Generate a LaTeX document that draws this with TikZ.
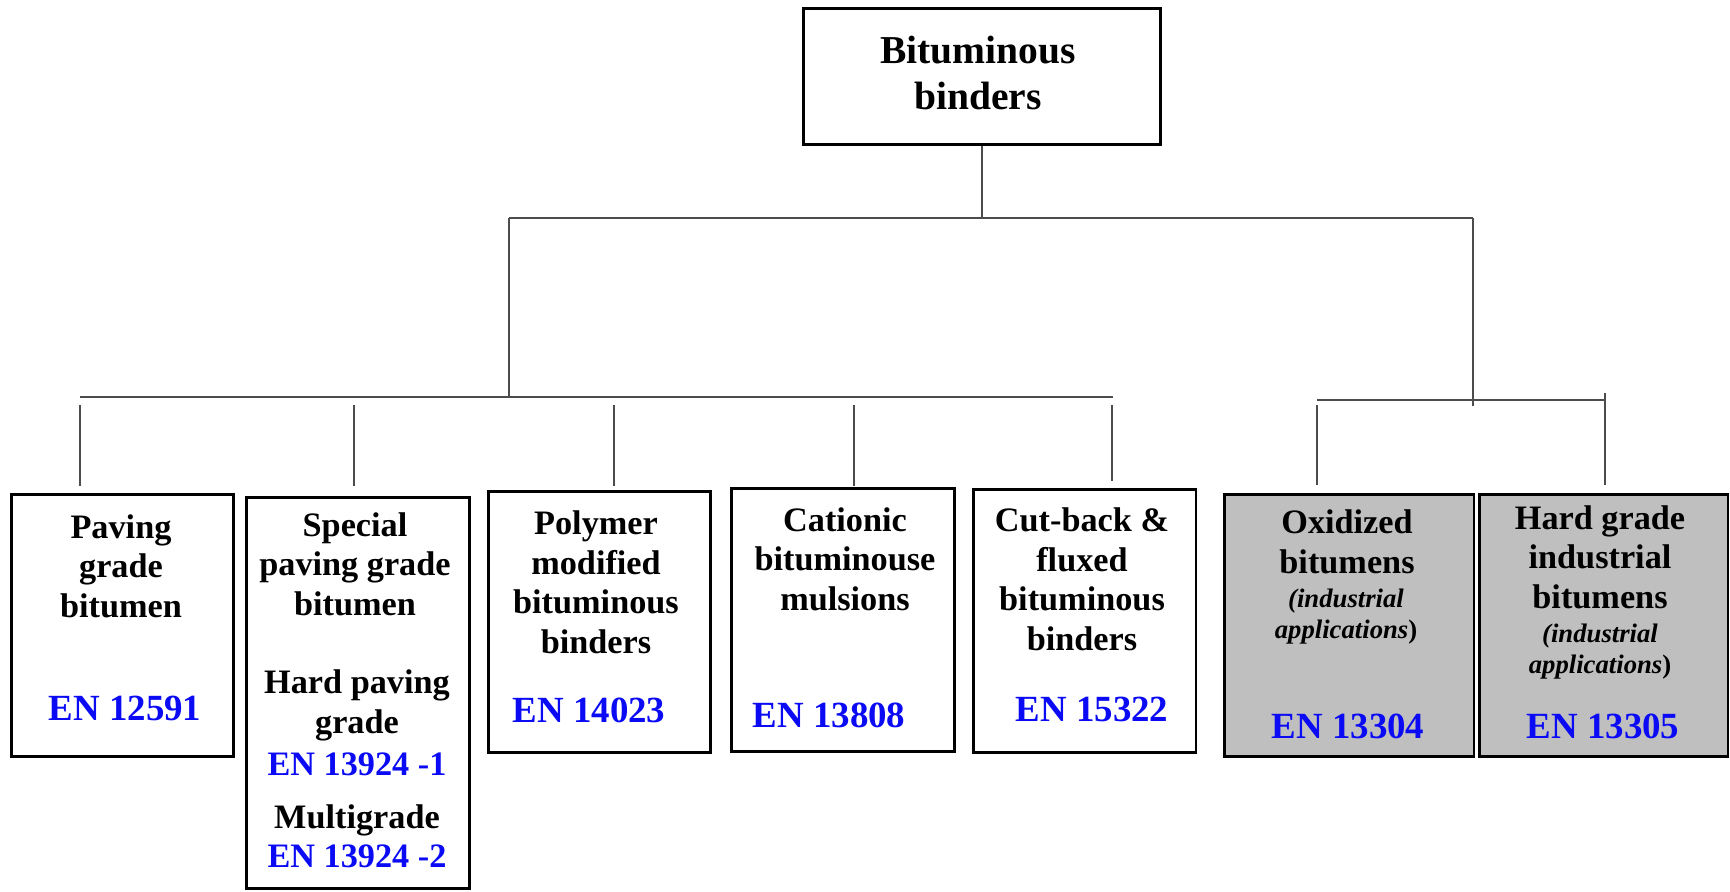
\documentclass[tikz,border=0pt]{standalone}
\usepackage{fontspec}
\setmainfont{Liberation Serif}
\usepackage{xcolor}
\usetikzlibrary{positioning}
\definecolor{enblue}{RGB}{10,10,245}
\tikzset{box/.style={draw, line width=1.7pt, inner sep=0pt},
 greybox/.style={box, fill=gray!50},
 title/.style={align=center, anchor=base, font=\fontsize{19.5}{22.4}\selectfont\bfseries},
 bigtitle/.style={title, font=\fontsize{22.5}{26.7}\selectfont\bfseries},
 code/.style={anchor=base, text=enblue, font=\fontsize{21}{24}\selectfont\bfseries},
 smallcode/.style={code, font=\fontsize{19.5}{22.4}\selectfont\bfseries},
 note/.style={align=center, anchor=base, font=\fontsize{15.2}{17.6}\selectfont\bfseries\itshape},
 link/.style={draw=black!70, line width=0.8pt},
 }

\begin{document}
\begin{tikzpicture}[x=0.02cm, y=-0.02cm]
        \useasboundingbox (0,0) rectangle (1730,892);
        \node[box, minimum width=7.16cm, minimum height=2.74cm] (root) at (982,76.5) {};
        \node[bigtitle] (roott) at (978,110) {Bituminous\\binders};
        \node[box, minimum width=4.46cm, minimum height=5.26cm] (pav) at (122.5,625.5) {};
        \node[box, minimum width=4.48cm, minimum height=7.84cm] (spec) at (358,693) {};
        \node[box, minimum width=4.46cm, minimum height=5.24cm] (pmb) at (599.5,622) {};
        \node[box, minimum width=4.48cm, minimum height=5.28cm] (cat) at (843,620) {};
        \node[box, minimum width=4.46cm, minimum height=5.28cm] (cut) at (1084.5,621) {};
        \node[greybox, minimum width=5cm, minimum height=5.26cm] (oxi) at (1349,625.5) {};
        \node[greybox, minimum width=4.98cm, minimum height=5.26cm] (hard) at (1603.5,625.5) {};
        \node[title] (pavt) at (121,617) {Paving\\grade\\bitumen};
        \node[code] (paven) at (125,720) {EN 12591};
        \node[title] (spect) at (355,615) {Special\\paving grade\\bitumen};
        \node[title] (sphard) at (357,733) {Hard paving\\grade};
        \node[smallcode] (spen1) at (357,775) {EN 13924 -1};
        \node[title] (spmulti) at (357,828) {Multigrade};
        \node[smallcode] (spen2) at (357,867) {EN 13924 -2};
        \node[title] (pmbt) at (596,653) {Polymer\\modified\\bituminous\\binders};
        \node[code] (pmben) at (589,722) {EN 14023};
        \node[title] (catt) at (845,610) {Cationic\\bituminouse\\mulsions};
        \node[code] (caten) at (829,727) {EN 13808};
        \node[title] (cutt) at (1082,650) {Cut-back \&\\fluxed\\bituminous\\binders};
        \node[code] (cuten) at (1092,721) {EN 15322};
        \node[title] (oxit) at (1347,573) {Oxidized\\bitumens};
        \node[note] (oxin) at (1346,638) {(industrial\\applications\textup{)}};
        \node[code] (oxien) at (1348,738) {EN 13304};
        \node[title] (hardt) at (1600,608) {Hard grade\\industrial\\bitumens};
        \node[note] (hardn) at (1600,673) {(industrial\\applications\textup{)}};
        \node[code] (harden) at (1603,738) {EN 13305};
        \coordinate (busTL) at (509,218);
        \coordinate (busTR) at (1473,218);
        \coordinate (busLL) at (80,397);
        \coordinate (busLR) at (1113,397);
        \coordinate (busRL) at (1317,400);
        \coordinate (busRR) at (1605,400);
        \draw[link] (root.south) -- (root.south |- busTL);
        \draw[link] (busTL) -- (busTR);
        \draw[link] (busTL) -- (busTL |- busLL);
        \draw[link] (busTR) -- ++(0,188);
        \draw[link] (busLL) -- (busLR);
        \draw[link] (busRL) -- (busRR);
        \foreach \x/\n/\g in {80/pav/7, 354/spec/10, 614/pmb/4, 854/cat/1, 1112/cut/7}
                \draw[link] ([yshift=-0.16cm]\x,0 |- busLL) -- ([yshift=\g*0.02cm]\x,0 |- \n.north);
        \draw[link] ([yshift=-0.1cm]busRL) -- ([yshift=0.16cm]busRL |- oxi.north);
        \draw[link] ([yshift=0.14cm]busRR) -- ([yshift=0.16cm]busRR |- hard.north);
\end{tikzpicture}
\end{document}
